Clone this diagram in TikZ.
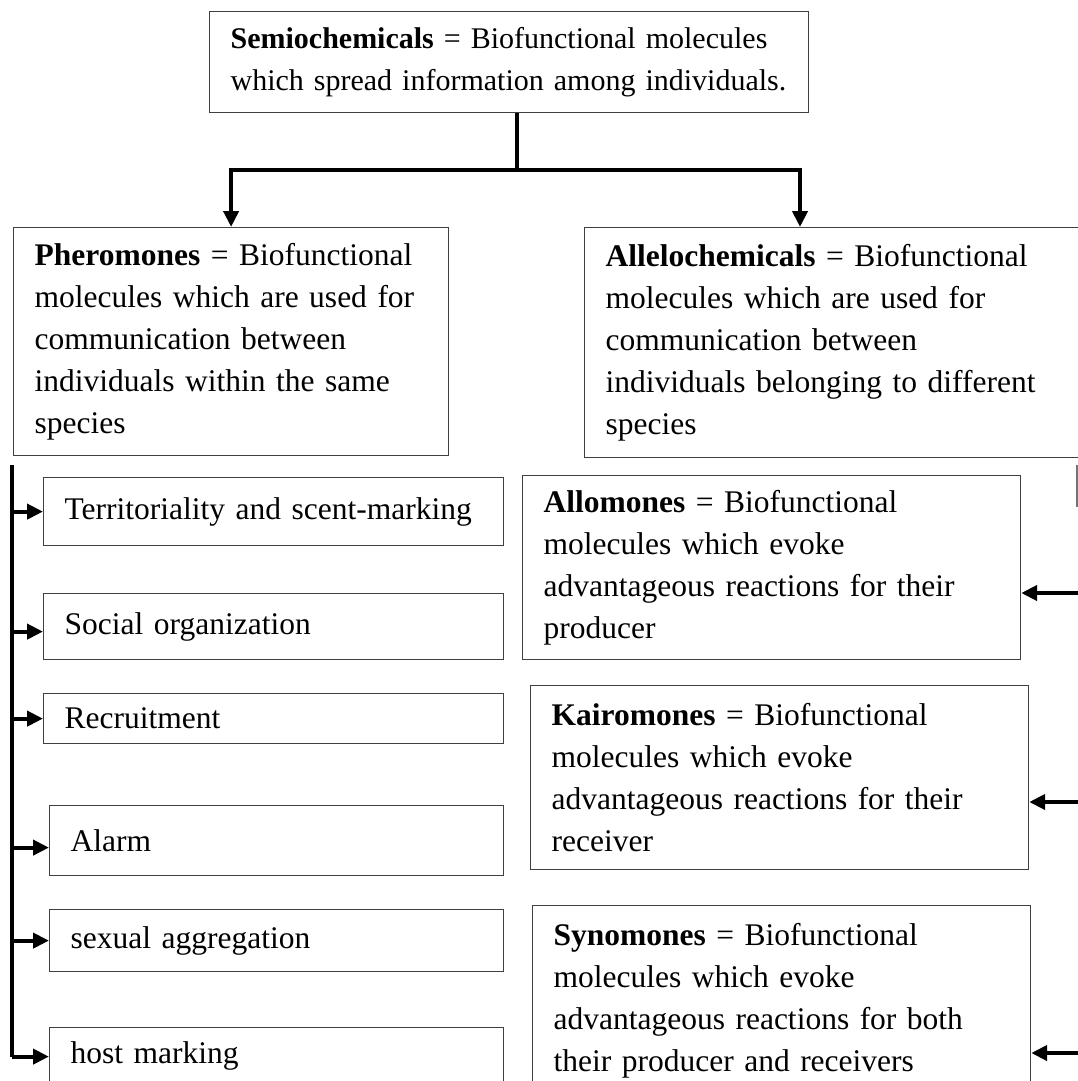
\documentclass[tikz,border=0pt]{standalone}
\usepackage{fontspec}
\setmainfont{Liberation Serif}
\usepackage{tikz}
\usetikzlibrary{arrows.meta,positioning}

\begin{document}
\begin{tikzpicture}[
    x=1pt, y=-1pt,
    box/.style={rectangle, draw=black!75, line width=1.2pt, anchor=north west,
                inner xsep=21pt, inner ysep=4pt, align=left,
                font=\fontsize{31.5}{42}\selectfont},
    arrow/.style={-{Triangle[length=16pt,width=15pt]}, line width=4pt},
    trunk/.style={line width=4pt}
]
\useasboundingbox (0,0) rectangle (1078,1081);
\clip (0,0) rectangle (1078,1081);

% top level
\node[box, text width=557pt, minimum height=101pt, font=\fontsize{30}{42}\selectfont] (semio) at (209,11)
    {\mbox{\textbf{Semiochemicals} = Biofunctional molecules}\\\mbox{which spread information among individuals.}};

\node[box, text width=393pt, minimum height=228pt] (phero) at (13,227)
    {\textbf{Pheromones} = Biofunctional\\molecules which are used for\\communication between\\individuals within the same\\species};
\node[box, text width=478pt, minimum height=230pt] (allelo) at (584,227)
    {\textbf{Allelochemicals} = Biofunctional\\molecules which are used for\\communication between\\individuals belonging to different\\species};

\coordinate (fork) at (517,170);
\draw[trunk] (semio.south -| fork) -- (fork);
\draw[arrow] (fork) -| (phero.north);
\draw[arrow] (fork) -| ([xshift=216pt]allelo.north west);

% pheromone functions
\node[box, text width=418pt, minimum height=68pt] (terr) at (43,477) {Territoriality and scent-marking};
\node[box, text width=418pt, minimum height=66pt] (social) at (43,593) {Social organization};
\node[box, text width=418pt, minimum height=50pt] (recruit) at (43,693) {Recruitment};
\node[box, text width=412pt, minimum height=70pt] (alarm) at (49,805) {Alarm};
\node[box, text width=412pt, minimum height=62pt] (sexual) at (49,909) {sexual aggregation};
\node[box, text width=412pt, minimum height=56pt] (host) at (49,1027) {host marking};

\coordinate (ltop) at (12,465);
\coordinate (lbot) at (12,1057);
\draw[trunk] (ltop) -- (lbot);
\draw[arrow] (ltop |- terr.west) -- (terr.west);
\draw[arrow] ([yshift=-5pt]ltop |- social.west) -- ([yshift=-5pt]social.west);
\draw[arrow] (ltop |- recruit.west) -- (recruit.west);
\draw[arrow] ([yshift=-7pt]ltop |- alarm.west) -- ([yshift=-7pt]alarm.west);
\draw[arrow] (ltop |- sexual.west) -- (sexual.west);
\draw[arrow] ([yshift=-1pt]ltop |- host.west) -- ([yshift=-1pt]host.west);

% allelochemical types
\node[box, text width=456pt, minimum height=184pt] (allo) at (522,475)
    {\textbf{Allomones} = Biofunctional\\molecules which evoke\\advantageous reactions for their\\producer};
\node[box, text width=456pt, minimum height=184pt] (kairo) at (530,685)
    {\textbf{Kairomones} = Biofunctional\\molecules which evoke\\advantageous reactions for their\\receiver};
\node[box, text width=456pt, minimum height=190pt] (syno) at (532,905)
    {\textbf{Synomones} = Biofunctional\\molecules which evoke\\advantageous reactions for both\\their producer and receivers};

\draw[black!55, line width=1.5pt] (1077,465) -- (1077,507);
\coordinate (ra) at (1078,593);
\coordinate (rk) at (1078,802);
\coordinate (rs) at (1078,1053);
\draw[arrow] (ra) -- (ra -| allo.east);
\draw[arrow] (rk) -- (rk -| kairo.east);
\draw[arrow] (rs) -- (rs -| syno.east);
\end{tikzpicture}
\end{document}
